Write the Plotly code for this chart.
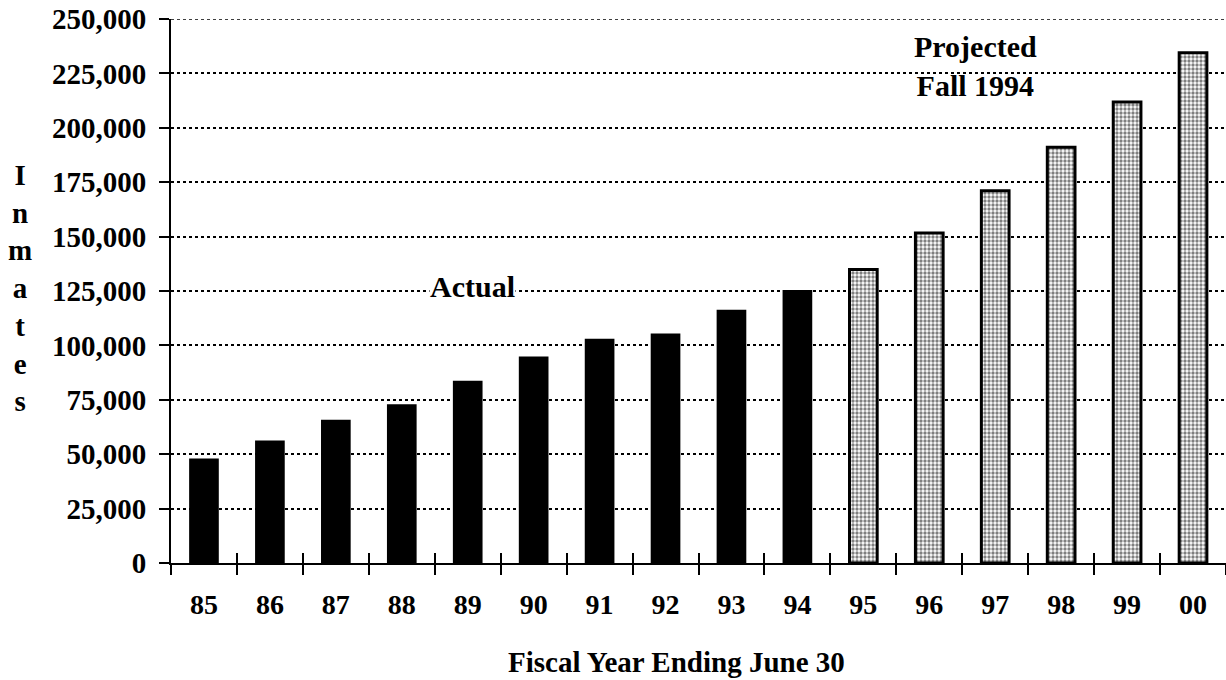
import plotly.graph_objects as go

years_actual = ["85", "86", "87", "88", "89", "90", "91", "92", "93", "94"]
inmates_actual = [48000, 56300, 65800, 72900, 83700, 94900, 103000, 105500, 116400, 125500]
years_projected = ["95", "96", "97", "98", "99", "00"]
inmates_projected = [134900, 151600, 171100, 191100, 211900, 234500]
all_years = years_actual + years_projected
y_ticks = [0, 25000, 50000, 75000, 100000, 125000, 150000, 175000, 200000, 225000, 250000]
y_tick_text = [f"{v:,}" for v in y_ticks]

FONT = "Liberation Serif"

W, H = 1226, 680
ML, MT, MB = 171, 19, 117
PLOT_W = W - ML
PLOT_H = H - MT - MB

fig = go.Figure()
fig.add_trace(go.Bar(
    x=years_actual, y=inmates_actual, name="Actual",
    marker=dict(color="black", line=dict(color="black", width=0)),
    width=0.45,
))
fig.add_trace(go.Bar(
    x=years_projected, y=inmates_projected, name="Projected",
    marker=dict(
        color="white",
        line=dict(color="black", width=3),
        pattern=dict(shape=".", fgcolor="black", bgcolor="white", size=4, solidity=0.55),
    ),
    width=0.42,
))

n = len(all_years)
boundaries = [i - 0.5 for i in range(n + 1)]

fig.update_layout(
    width=W, height=H,
    margin=dict(l=ML, r=0, t=MT, b=MB, autoexpand=False),
    paper_bgcolor="white", plot_bgcolor="white",
    barmode="overlay", showlegend=False,
    font=dict(family=FONT, color="black"),
    xaxis=dict(
        type="category", categoryorder="array", categoryarray=all_years,
        range=[-0.5, n - 0.5],
        showline=True, linecolor="black", linewidth=2,
        ticks="outside", tickson="boundaries", ticklen=10, tickwidth=2, tickcolor="black",
        tickfont=dict(family=FONT, size=28, weight="bold", color="black"),
        ticklabelstandoff=15,
        showgrid=False, zeroline=False, automargin=False,
    ),
    xaxis2=dict(
        overlaying="x", anchor="y", side="bottom", type="linear",
        range=[-0.5, n - 0.5],
        tickmode="array", tickvals=boundaries,
        ticks="inside", ticklen=10, tickwidth=2, tickcolor="black",
        showticklabels=False, showgrid=False, zeroline=False, showline=False,
    ),
    yaxis=dict(
        range=[y_ticks[0], y_ticks[-1]],
        tickmode="array", tickvals=y_ticks, ticktext=y_tick_text,
        showline=True, linecolor="black", linewidth=2,
        ticks="outside", ticklen=10, tickwidth=2, tickcolor="black",
        tickfont=dict(family=FONT, size=29, weight="bold", color="black"),
        ticklabelstandoff=7, ticklabeloverflow="allow",
        showgrid=True, gridcolor="black", gridwidth=1.5, griddash="dot",
        zeroline=False, automargin=False,
    ),
)

# top gridline at the upper edge of the value axis (plotly skips edge gridlines)
fig.add_shape(type="line", xref="paper", x0=0, x1=1, yref="y", y0=y_ticks[-1], y1=y_ticks[-1],
              line=dict(color="black", width=1.5, dash="dot"), layer="below")

# invisible trace so the secondary tick axis is drawn
fig.add_trace(go.Scatter(x=[boundaries[0], boundaries[-1]], y=[0, 0], xaxis="x2",
                         mode="markers", marker=dict(opacity=0), hoverinfo="skip"))

fig.add_annotation(
    text="Actual", x=all_years.index("89"), y=125000, xref="x", yref="y", xshift=5, yshift=5,
    showarrow=False, bgcolor="white", borderpad=0,
    font=dict(family=FONT, size=30, weight="bold", color="black"),
)
fig.add_annotation(
    text="Projected<br>Fall 1994", x=all_years.index("97"), y=228600, xref="x", yref="y",
    xshift=-20, showarrow=False,
    font=dict(family=FONT, size=30, weight="bold", color="black"),
)
fig.add_annotation(
    text="I<br>n<br>m<br>a<br>t<br>e<br>s", xref="paper", yref="paper",
    x=(20 - ML) / PLOT_W, y=0.505, xanchor="center", yanchor="middle",
    showarrow=False,
    font=dict(family=FONT, size=29, weight="bold", color="black"),
)
fig.add_annotation(
    text="Fiscal Year Ending June 30", xref="paper", yref="paper",
    x=(676 - ML) / PLOT_W, y=-(99) / PLOT_H, xanchor="center", yanchor="middle",
    showarrow=False,
    font=dict(family=FONT, size=29, weight="bold", color="black"),
)

# remove the browser's default 8px page margin so the figure fills the window exactly
fig.write_html("out.html", config={"displayModeBar": False},
               post_script="document.body.style.margin='0';")
